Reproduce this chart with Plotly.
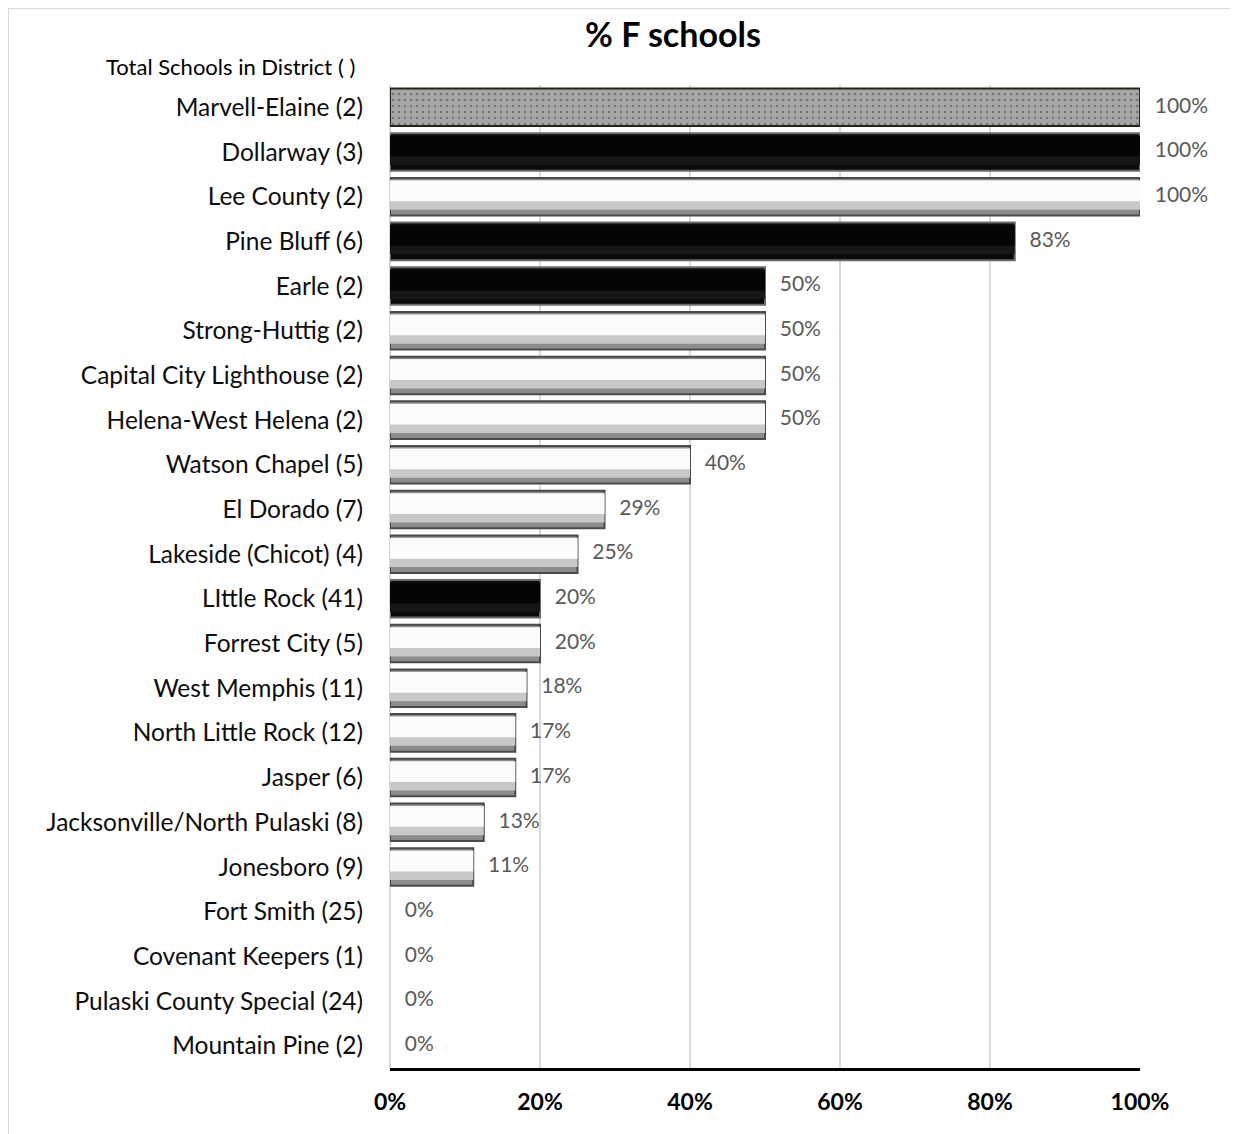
import plotly.graph_objects as go

districts = [
    "Marvell-Elaine (2)", "Dollarway (3)", "Lee County (2)", "Pine Bluff (6)",
    "Earle (2)", "Strong-Huttig (2)", "Capital City Lighthouse (2)",
    "Helena-West Helena (2)", "Watson Chapel (5)", "El Dorado (7)",
    "Lakeside (Chicot) (4)", "LIttle Rock (41)", "Forrest City (5)",
    "West Memphis (11)", "North Little Rock (12)", "Jasper (6)",
    "Jacksonville/North Pulaski (8)", "Jonesboro (9)", "Fort Smith (25)",
    "Covenant Keepers (1)", "Pulaski County Special (24)", "Mountain Pine (2)",
]
pct_f = [100, 100, 100, 83.3, 50, 50, 50, 50, 40, 28.6, 25, 20, 20,
         18.2, 16.7, 16.7, 12.5, 11.1, 0, 0, 0, 0]
bar_style = ["dots", "black", "white", "black", "black", "white", "white",
             "white", "white", "white", "white", "black", "white", "white",
             "white", "white", "white", "white", "white", "white", "white", "white"]
x_ticks = [0, 20, 40, 60, 80, 100]
x_tick_labels = ["0%", "20%", "40%", "60%", "80%", "100%"]

FONT = "Lato, Calibri, Carlito, sans-serif"

# page offset (browser body margin) compensation
OFF = 8
L, R_, T, B = 390 - OFF, 1140 - OFF, 85 - OFF, 1068 - OFF
W, H = 1238, 1134
PW, PH = R_ - L, B - T

def style_colors(kind):
    out = []
    for s in bar_style:
        if s == "black":
            out.append({"base": "#0a0a0a", "line": "#6a6a6a", "mid": "#161616", "hi": "#050505"}[kind])
        elif s == "dots":
            out.append({"base": "#a6a6a6", "line": "#262616", "mid": "rgba(0,0,0,0)", "hi": "rgba(0,0,0,0)"}[kind])
        else:
            out.append({"base": "#8c8c8c", "line": "#4a4a4a", "mid": "#c8c8c8", "hi": "#fbfbfb"}[kind])
    return out

pat_shapes = ["." if s == "dots" else "" for s in bar_style]
line_widths = [2 if v > 0 else 0 for v in pct_f]

fig = go.Figure()
fig.add_trace(go.Bar(
    y=districts, x=pct_f, orientation="h", width=0.84,
    marker=dict(color=style_colors("base"),
                line=dict(color=style_colors("line"), width=line_widths),
                pattern=dict(shape=pat_shapes, fgcolor="#ffffff",
                             size=6, solidity=0.15, fillmode="overlay")),
    hoverinfo="skip", showlegend=False,
))
fig.add_trace(go.Bar(
    y=districts, x=pct_f, orientation="h", width=0.66, offset=-0.37,
    marker=dict(color=style_colors("mid"), line=dict(width=0)),
    hoverinfo="skip", showlegend=False,
))
fig.add_trace(go.Bar(
    y=districts, x=pct_f, orientation="h", width=0.46, offset=-0.36,
    marker=dict(color=style_colors("hi"), line=dict(width=0)),
    hoverinfo="skip", showlegend=False,
))
# data labels
fig.add_trace(go.Scatter(
    y=districts, x=pct_f, mode="markers+text",
    marker=dict(size=22, color="rgba(0,0,0,0)"),
    text=[f"{int(v + 0.5)}%" for v in pct_f], textposition="middle right",
    textfont=dict(family=FONT, size=21, color="#595959"),
    cliponaxis=False, hoverinfo="skip", showlegend=False,
))

fig.update_layout(
    width=W, height=H,
    margin=dict(l=L, r=W - R_, t=T, b=H - B),
    paper_bgcolor="white", plot_bgcolor="white",
    barmode="overlay",
    title=dict(text="<b>% F schools</b>", x=(673 - OFF) / W, xanchor="center",
               y=1 - (35 - OFF) / H, yanchor="middle",
               font=dict(family=FONT, size=34, color="#000000")),
    font=dict(family=FONT),
)
fig.update_xaxes(
    range=[0, 100], tickvals=x_ticks, ticktext=x_tick_labels,
    tickfont=dict(family=FONT, size=23, color="#000000", weight="bold"),
    showgrid=True, gridcolor="#d9d9d9", gridwidth=1.5,
    showline=True, linecolor="#000000", linewidth=2.5,
    ticks="outside", ticklen=12, tickcolor="rgba(0,0,0,0)",
    zeroline=True, zerolinecolor="#d9d9d9", zerolinewidth=2,
    fixedrange=True,
)
fig.update_yaxes(
    categoryorder="array", categoryarray=districts,
    range=[len(districts) - 0.5, -0.5], autorange=False,
    tickfont=dict(family=FONT, size=24.5, color="#0d0d0d"),
    ticks="outside", ticklen=21, tickcolor="rgba(0,0,0,0)",
    showline=False, showgrid=False, zeroline=False, fixedrange=True,
)
fig.add_annotation(
    text="Total Schools in District ( )", xref="paper", yref="paper",
    x=(230 - OFF - L) / PW, y=(B - (66 - OFF)) / PH, xanchor="center", yanchor="middle",
    showarrow=False, font=dict(family=FONT, size=22, color="#000000"),
)
# outer chart border
fig.add_shape(type="rect", xref="paper", yref="paper",
              x0=(0 - L) / PW, x1=1.4, y0=-0.3, y1=(B - 0) / PH,
              line=dict(color="#d9d9d9", width=2), layer="below")

fig.write_html("out.html")
